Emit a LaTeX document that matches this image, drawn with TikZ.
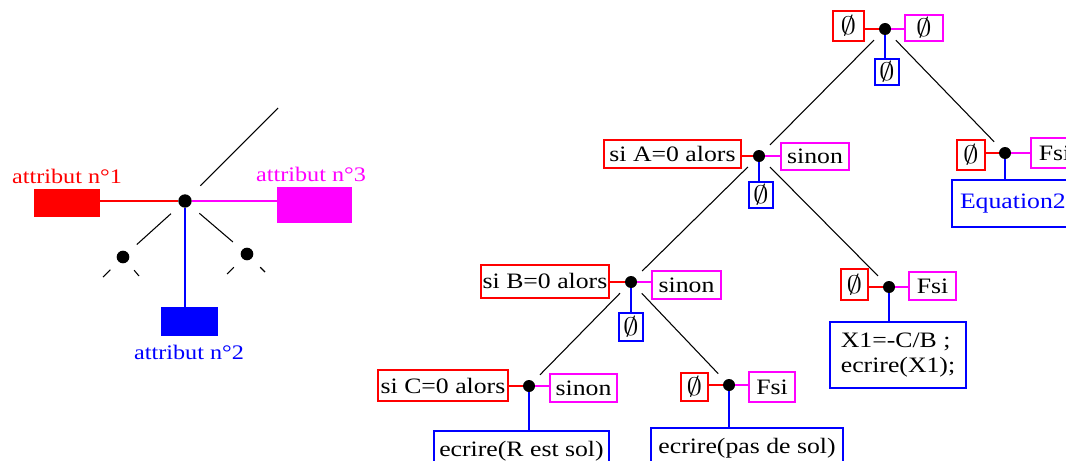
\documentclass[tikz,border=0pt]{standalone}
\usepackage{fontspec}
\usepackage{graphicx}
\setmainfont{Liberation Serif}[FakeStretch=1.17]
\definecolor{rd}{RGB}{255,0,0}
\definecolor{mg}{RGB}{255,0,255}
\definecolor{bl}{RGB}{0,0,255}
\newcommand{\vide}{\scalebox{1.35}[1.1]{$\emptyset$}}
\begin{document}
\begin{tikzpicture}[x=0.75pt,y=-0.75pt,
  bx/.style 2 args={draw,line width=1.5pt,inner sep=0pt,fill=white,
     minimum width=#1*0.75pt,minimum height=#2*0.75pt,font=\fontsize{16.5}{18}\selectfont},
  dot/.style={circle,fill=black,inner sep=0pt,minimum size=9pt},
  sdot/.style={circle,fill=black,inner sep=0pt,minimum size=9.5pt},
  tree/.style={draw=black,line width=0.8pt,shorten <=7pt,shorten >=7pt},
  rl/.style={draw=rd,line width=1.5pt},
  ml/.style={draw=mg,line width=1.5pt},
  bll/.style={draw=bl,line width=1.8pt},
  lbl/.style={font=\fontsize{15.5}{17}\selectfont,inner sep=0pt}]
\useasboundingbox (0,0) rectangle (1066,460);
\clip (0,0) rectangle (1066,460);
\fill[white] (0,0) rectangle (1066,460);
% ---------- left figure ----------
\node[dot,minimum size=10pt] (L) at (185,201) {};
\node[fill=rd,inner sep=0pt,minimum width=66*0.75pt,minimum height=28*0.75pt] (L1) at (67,203) {};
\node[fill=mg,inner sep=0pt,minimum width=75*0.75pt,minimum height=36*0.75pt] (L3) at (314.5,205) {};
\node[fill=bl,inner sep=0pt,minimum width=57*0.75pt,minimum height=29*0.75pt] (L2) at (189.5,321.5) {};
\node[lbl,text=rd] (t1) at (67,176) {attribut n°1};
\node[lbl,text=mg] (t3) at (311,174) {attribut n°3};
\node[lbl,text=bl] (t2) at (189,352) {attribut n°2};
\draw[draw=rd,line width=1.2pt] (L -| L1.east) -- (L);
\draw[draw=mg,line width=1.2pt] (L) -- (L -| L3.west);
\draw[bll] (L) -- (L |- L2.north);
\coordinate (up) at (278,108);
\node[sdot] (LL) at (123,257) {};
\node[sdot] (LR) at (247,254) {};
\draw[line width=0.8pt,shorten <=11pt] (L) -- (up);
\draw[tree,shorten <=9pt,shorten >=9pt] (L) -- (LL);
\draw[tree,shorten <=9pt,shorten >=9pt] (L) -- (LR);
\coordinate (ll1) at (103,277);
\coordinate (ll2) at (139,276);
\coordinate (lr1) at (227,274);
\coordinate (lr2) at (265,272);
\draw[line width=0.8pt,shorten <=8.5pt] (LL) -- (ll1);
\draw[line width=0.8pt,shorten <=8pt] (LL) -- (ll2);
\draw[line width=0.8pt,shorten <=9pt] (LR) -- (lr1);
\draw[line width=0.8pt,shorten <=9pt] (LR) -- (lr2);
% ---------- right tree : dots ----------
\node[dot] (R) at (885,29) {};
\node[dot] (A) at (759,156) {};
\node[dot] (D) at (1005,153) {};
\node[dot] (B) at (631,282) {};
\node[dot] (E) at (889,287) {};
\node[dot] (C) at (529,386) {};
\node[dot] (F) at (729,385) {};
\draw[tree] (R) -- (A);
\draw[tree] (R) -- (D);
\draw[tree] (A) -- (B);
\draw[tree] (A) -- (E);
\draw[tree] (B) -- (C);
\draw[tree] (B) -- (F);
% ---------- root ----------
\node[bx={31}{30},draw=rd] (R1) at (848.5,26) {\vide};
\node[bx={38}{26},draw=mg] (R3) at (924,28) {\vide};
\node[bx={24}{26},draw=bl] (R2) at (887,72) {\vide};
\draw[rl] (R -| R1.east) -- (R);
\draw[ml] (R) -- (R -| R3.west);
\draw[bll] (R) -- (R |- R2.north);
% ---------- A ----------
\node[bx={137}{28},draw=rd] (A1) at (672.5,154) {si A=0 alors};
\node[bx={68}{27},draw=mg] (A3) at (815,156.5) {sinon};
\node[bx={24}{26},draw=bl] (A2) at (761,195) {\vide};
\draw[rl] (A -| A1.east) -- (A);
\draw[ml] (A) -- (A -| A3.west);
\draw[bll] (A) -- (A |- A2.north);
% ---------- D ----------
\node[bx={28}{30},draw=rd] (D1) at (971,155) {\vide};
\node[bx={47}{30},draw=mg] (D3) at (1054.5,153) {Fsi};
\node[bx={136}{47},draw=bl,text=bl,text width=120*0.75pt,align=left] (D2) at (1020,203.5) {Equation2};
\draw[rl] (D -| D1.east) -- (D);
\draw[ml] (D) -- (D -| D3.west);
\draw[bll] (D) -- (D |- D2.north);
% ---------- B ----------
\node[bx={128}{33},draw=rd] (B1) at (545,281) {si B=0 alors};
\node[bx={69}{28},draw=mg] (B3) at (686.5,285) {sinon};
\node[bx={24}{28},draw=bl] (B2) at (631,327) {\vide};
\draw[rl] (B -| B1.east) -- (B);
\draw[ml] (B) -- (B -| B3.west);
\draw[bll] (B) -- (B |- B2.north);
% ---------- E ----------
\node[bx={136}{66},draw=bl,align=left] (E2) at (898,355) {X1=-C/B ;\\[1pt]ecrire(X1);};
\node[bx={27}{31},draw=rd] (E1) at (854.5,284.5) {\vide};
\node[bx={47}{28},draw=mg] (E3) at (932.5,286) {Fsi};
\draw[rl] (E -| E1.east) -- (E);
\draw[ml] (E) -- (E -| E3.west);
\draw[bll] (E) -- (E |- E2.north);
% ---------- C ----------
\node[bx={130}{31},draw=rd] (C1) at (443,385.5) {si C=0 alors};
\node[bx={67}{28},draw=mg] (C3) at (583.5,388) {sinon};
\node[bx={175}{40},draw=bl] (C2) at (521.5,451) {ecrire(R est sol)};
\draw[rl] (C -| C1.east) -- (C);
\draw[ml] (C) -- (C -| C3.west);
\draw[bll] (C) -- (C |- C2.north);
% ---------- F ----------
\node[bx={27}{28},draw=rd] (F1) at (694.5,387) {\vide};
\node[bx={46}{30},draw=mg] (F3) at (772,387) {Fsi};
\node[bx={192}{40},draw=bl] (F2) at (747,448) {ecrire(pas de sol)};
\draw[rl] (F -| F1.east) -- (F);
\draw[ml] (F) -- (F -| F3.west);
\draw[bll] (F) -- (F |- F2.north);
\end{tikzpicture}
\end{document}
